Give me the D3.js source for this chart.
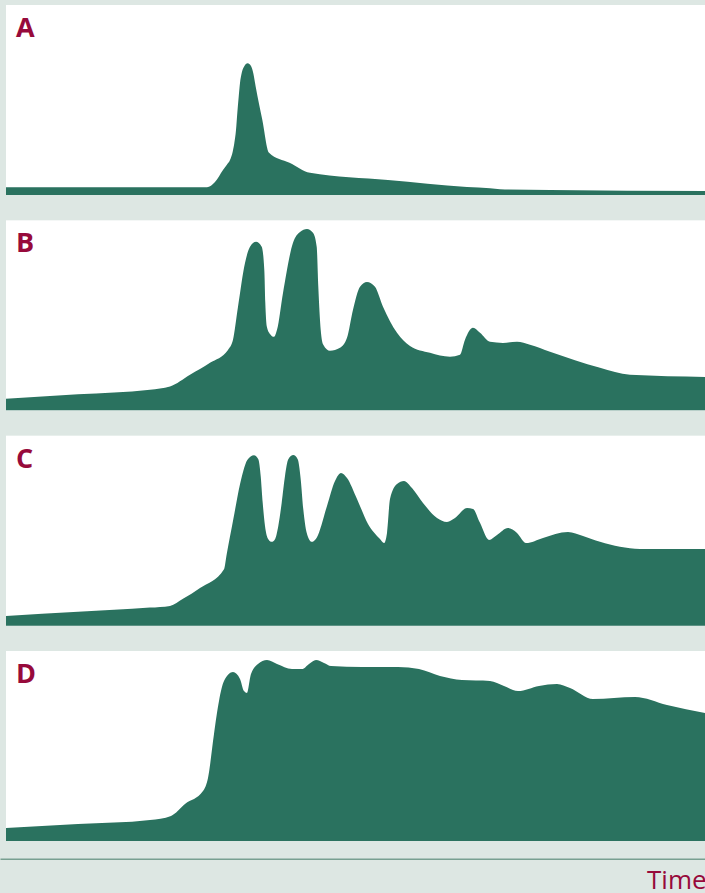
<!DOCTYPE html>
<html>
<head>
<meta charset="utf-8">
<script src="https://cdn.jsdelivr.net/npm/d3@7"></script>
<style>
  body { margin: 0; background: #dde7e3; }
  svg { display: block; }
</style>
</head>
<body>
<div id="chart"></div>
<script>
// time steps and signal level (0-100) for each trace
let timeA = [0, 201, 209, 217, 220.7, 224, 226.7, 228.3, 230, 231.3, 232.7, 234, 235.7, 238, 241.7, 245, 247.3, 249.7, 256.3, 263, 283.5, 304, 382, 461, 484, 494, 544, 699]
let valuesA = [4.1, 4.1, 6.8, 13.2, 15.8, 18.4, 22.8, 27.2, 34.2, 43.2, 51.7, 58.9, 64.2, 67.5, 69.3, 67.9, 64.1, 57, 39.6, 22.3, 17, 11.7, 7.9, 4.2, 3.5, 3, 2.6, 2.1]

let timeB = [0, 72, 144, 164, 184, 204, 222, 227, 232, 239, 244, 250, 255.7, 258.3, 259.3, 260.7, 264, 268, 271, 277, 287, 294, 301, 307, 310.7, 312.3, 314.7, 317.3, 324, 334, 341, 347, 354, 361, 369, 377, 391, 404, 424, 444, 454, 459, 467, 474, 484, 497, 511, 524, 544, 594, 624, 699]
let valuesB = [6.1, 8.4, 10.8, 12.5, 18.7, 25, 31.8, 37.1, 54.5, 77.6, 86.1, 88.7, 86.1, 73.9, 56.6, 44.4, 40.2, 38.7, 42.4, 61.8, 88.2, 93.9, 95.5, 93.4, 86.1, 65, 42.4, 34.5, 31.3, 32.9, 38.2, 52.9, 65, 67.6, 65, 54.5, 40.8, 33.9, 30.3, 28.2, 29.2, 37.1, 43.4, 40.8, 36.1, 35.5, 36.1, 34.5, 30.8, 22.4, 18.7, 17.6]

let timeC = [0, 72, 144, 164, 177, 194, 218, 220.7, 227.3, 234, 237.3, 241.3, 248, 252.3, 254.7, 256.7, 259, 262.3, 265.7, 269, 272.3, 275.7, 279, 282.3, 287.3, 291.7, 294.7, 297.3, 300.7, 305.7, 310.7, 321, 329, 335, 341, 351, 362, 374, 378, 381, 384, 391, 398, 406, 417, 431, 441, 449, 461, 467, 474, 483, 491, 502, 511, 520, 537, 562, 577, 594, 634, 699]
let valuesC = [5.1, 7.3, 9.5, 10.4, 14.1, 19.8, 29.7, 37.6, 56, 74.4, 81.4, 87.2, 89.7, 87.6, 78.8, 64.7, 52.5, 45.5, 44.1, 45.5, 52.5, 64.7, 78.8, 87.6, 89.8, 87.6, 77.1, 61.3, 48.9, 44.1, 46.3, 63, 76.2, 80.4, 77.7, 66.7, 53.5, 45.6, 43.5, 48.8, 66.7, 74.6, 76.2, 72.5, 64.6, 56.7, 54.6, 56.7, 61.9, 61.4, 54.1, 45.1, 47.7, 51.4, 48.8, 43.5, 46.2, 49.3, 47.2, 44.1, 40.4, 40.4]

let timeD = [0, 72, 144, 165, 179, 197, 202, 208, 213, 218, 227, 234, 238, 241, 245, 252, 261, 271, 286, 296, 303, 310, 318, 325, 356, 392, 413, 434, 456, 484, 498, 512, 533, 551, 564, 587, 629, 661, 699]
let valuesD = [6.8, 8.9, 11.1, 13.2, 19.5, 26.3, 33.2, 56.3, 73.7, 84.2, 88.9, 85.3, 78.9, 77.9, 87.9, 93.2, 95.3, 93.2, 90.5, 90.5, 93.2, 95.3, 93.7, 92.1, 91.6, 91.6, 90.5, 86.8, 84.7, 84.2, 81.6, 78.9, 81.6, 82.6, 80.5, 74.7, 75.8, 71.6, 67.4]

let panelNames = ['A', 'B', 'C', 'D']
let axisLabel = 'Time'

let traces = [
  { name: panelNames[0], time: timeA, values: valuesA },
  { name: panelNames[1], time: timeB, values: valuesB },
  { name: panelNames[2], time: timeC, values: valuesC },
  { name: panelNames[3], time: timeD, values: valuesD }
]

let width = 705
let height = 893
let panelTop = 5
let panelHeight = 190
let panelStep = 215.33
let left = 6

let svg = d3
  .select('#chart')
  .append('svg')
  .attr('width', width)
  .attr('height', height)

svg
  .append('rect')
  .attr('width', width)
  .attr('height', height)
  .attr('fill', '#dde7e3')

let xScale = d3
  .scaleLinear()
  .domain([0, 699])
  .range([left, width])

let yScale = d3
  .scaleLinear()
  .domain([0, 100])
  .range([panelHeight, 0])

let area = d3
  .area()
  .x(d => xScale(d.t))
  .y0(yScale(0))
  .y1(d => yScale(d.v))
  .curve(d3.curveMonotoneX)

let panels = svg
  .selectAll('.panel')
  .data(traces)
  .enter()
  .append('g')
  .attr('class', 'panel')
  .attr('transform', (d, i) => `translate(0,${panelTop + i * panelStep})`)

panels
  .append('rect')
  .attr('x', left)
  .attr('y', 0)
  .attr('width', width - left)
  .attr('height', panelHeight)
  .attr('fill', 'white')

panels
  .append('path')
  .datum(d => d.time.map((t, i) => ({ t: t, v: d.values[i] })))
  .attr('fill', '#2a725f')
  .attr('d', area)

panels
  .append('text')
  .text(d => d.name)
  .attr('x', 16)
  .attr('y', 32)
  .attr('font-family', 'Open Sans, sans-serif')
  .attr('font-weight', '700')
  .attr('font-size', 27)
  .attr('fill', '#970a3b')

// bottom time axis, just a bare line
let axisScale = d3.scaleLinear().range([0, width])
let axis = svg
  .append('g')
  .attr('transform', 'translate(0,858.7)')
  .call(d3.axisBottom(axisScale).ticks(0).tickSizeOuter(0))

axis
  .select('.domain')
  .attr('stroke', '#78a091')
  .attr('stroke-width', 1.5)

svg
  .append('text')
  .text(axisLabel)
  .attr('x', 647)
  .attr('y', 889)
  .attr('font-family', 'Open Sans, sans-serif')
  .attr('font-size', 26)
  .attr('fill', '#970a3b')
</script>
</body>
</html>
